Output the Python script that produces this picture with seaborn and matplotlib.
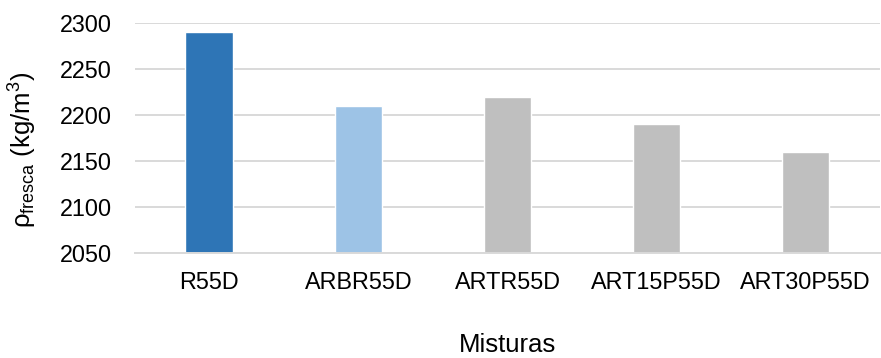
import matplotlib
matplotlib.use("Agg")
import matplotlib.pyplot as plt
import seaborn as sns
import pandas as pd

misturas = ["R55D", "ARBR55D", "ARTR55D", "ART15P55D", "ART30P55D"]
densidade = [2290, 2210, 2220, 2190, 2160]
cores = ["#2E75B6", "#9DC3E6", "#BFBFBF", "#BFBFBF", "#BFBFBF"]
y_ticks = [2050, 2100, 2150, 2200, 2250, 2300]

sns.set_theme(style="white")
plt.rcParams["font.family"] = ["Liberation Sans", "DejaVu Sans"]
plt.rcParams["mathtext.fontset"] = "custom"
plt.rcParams["mathtext.rm"] = "Liberation Sans"
plt.rcParams["mathtext.it"] = "Liberation Sans:italic"
plt.rcParams["mathtext.sf"] = "Liberation Sans"

df = pd.DataFrame({"Misturas": misturas, "rho": densidade})

fig = plt.figure(figsize=(8.81, 3.58), dpi=100)
ax = fig.add_axes([0.153, 0.293, 0.846, 0.643])

sns.barplot(data=df, x="Misturas", y="rho", hue="Misturas", palette=cores,
            width=0.32, legend=False, ax=ax, saturation=1)

# bars rise from the lower axis limit
for bar, v in zip(ax.patches, densidade):
    bar.set_y(y_ticks[0])
    bar.set_height(v - y_ticks[0])

ax.set_ylim(y_ticks[0], y_ticks[-1])
ax.set_yticks(y_ticks)
ax.set_xlim(-0.5, len(misturas) - 0.5)
ax.yaxis.grid(True, color="#D9D9D9", linewidth=1.4)
ax.set_axisbelow(True)
for side in ["top", "right", "left"]:
    ax.spines[side].set_visible(False)
ax.spines["bottom"].set_color("#D9D9D9")
ax.spines["bottom"].set_linewidth(1.4)
ax.tick_params(axis="both", length=0, labelsize=16.8, colors="#000000")
ax.tick_params(axis="x", pad=13)
ax.tick_params(axis="y", pad=16.5)

ax.set_xlabel("Misturas", fontsize=18.5, labelpad=28, color="#000000")
ax.set_ylabel(r"ρ$_{\mathrm{fresca}}$ (kg/m$^3$)", fontsize=18.5,
              color="#000000")
ax.yaxis.set_label_coords(-0.128, 0.45)

fig.savefig("out.png", dpi=100, facecolor="white")
